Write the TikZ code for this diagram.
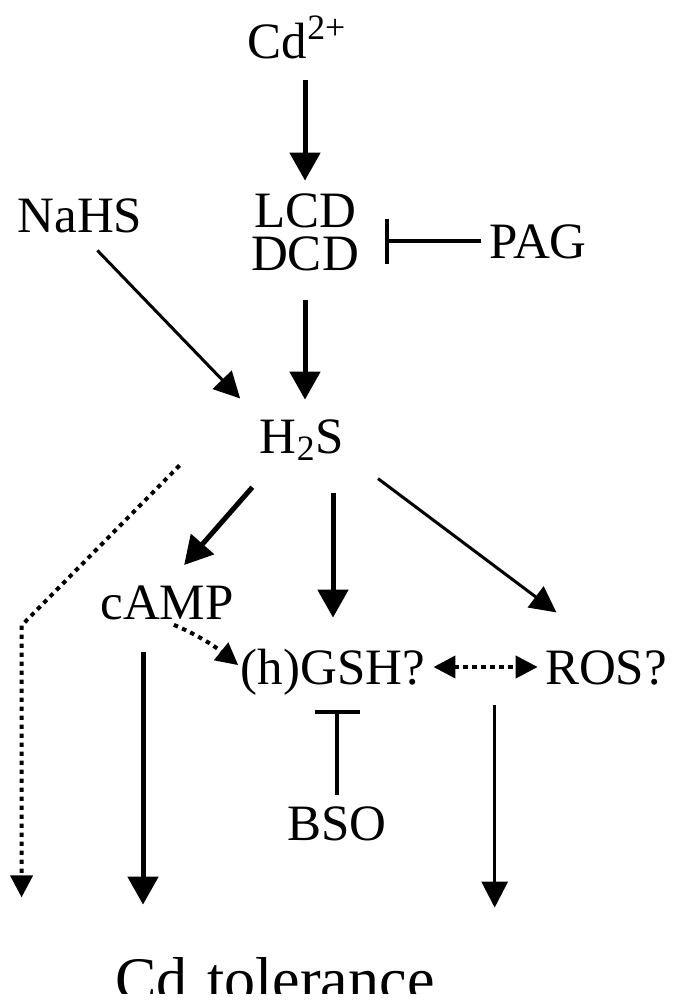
\documentclass[tikz,border=0pt]{standalone}
\usepackage{fontspec}
\setmainfont{Liberation Serif}
\usetikzlibrary{arrows.meta}

\begin{document}
\begin{tikzpicture}[
        x=0.5pt, y=-0.5pt,
        lbl/.style={inner sep=0pt, anchor=base, text height=17pt, text depth=0pt, font=\fontsize{25.5}{20}\selectfont},
        thk/.style={line width=2.5pt, -{Triangle[length=14pt,width=15pt]}},
        thn/.style={line width=1.5pt, -{Triangle[length=13pt,width=13pt]}},
        dotarr/.style={line width=2pt, dash pattern=on 2.2pt off 2.3pt, -{Triangle[length=11pt,width=11pt]}},
        blk/.style={line width=2pt, -{Bar[width=22.5pt]}}
    ]
        \useasboundingbox (0,0) rectangle (686,1002);
        \node[lbl] (cd) at (297,58) {Cd\textsuperscript{2+}};
        % two lines: base is the lower line
        \node[lbl, align=center, text height=38.5pt, font=\fontsize{25.5}{21.5}\selectfont] (lcd) at (305,270) {LCD\\DCD};
        \node[lbl] (pag) at (538,258) {PAG};
        \node[lbl] (nahs) at (80,232) {NaHS};
        \node[lbl] (h2s) at (302,453) {H\textsubscript{2}S};
        \node[lbl] (camp) at (167,619) {cAMP};
        \node[lbl] (gsh) at (333,684) {(h)GSH?};
        \node[lbl] (ros) at (606,684) {ROS?};
        \node[lbl] (bso) at (337,840) {BSO};
        % bottom line is cut off in the original
        \begin{scope}
            \clip (0,0) rectangle (686,993);
            \node[lbl, text height=20.5pt, font=\fontsize{31}{37}\selectfont] (tol) at (275,1000) {Cd\hspace{2pt} tolerance};
        \end{scope}
        \draw[thk, shorten <=11pt, shorten >=6pt] (cd.south -| lcd.north) -- (lcd.north);
        \draw[thk, shorten <=15pt, shorten >=9.5pt] (lcd.south) -- (lcd.south |- h2s.north);
        \draw[blk, shorten <=4pt, shorten >=13pt] (pag.west) -- (pag.west -| lcd.east);
        \draw[thn, shorten <=12.5pt, shorten >=14pt] (nahs.south) -- (h2s.north west);
        \draw[thk, shorten <=22.5pt, shorten >=13pt] ([xshift=-10pt]h2s.south) -- (camp.north);
        \draw[thk, shorten <=20pt, shorten >=16pt] (h2s.south -| gsh.north) -- (gsh.north);
        \draw[thn, shorten <=21pt, shorten >=31pt] (h2s.south east) -- (ros.north);
        \draw[dotarr] ([shift={(-40pt,-6pt)}]h2s.south west) -- ++(-79pt,-80pt) -- ++(0pt,-136pt);
        \draw[dotarr, shorten <=7pt, shorten >=1.5pt] ([xshift=-3pt]camp.south) to[bend left=8] (gsh.west);
        \draw[dotarr, {Triangle[length=11pt,width=11pt]}-{Triangle[length=11pt,width=11pt]}, shorten <=4pt, shorten >=3.5pt] (gsh.east) -- (gsh.east -| ros.west);
        \draw[blk, shorten <=5.5pt, shorten >=13pt] (bso.north) -- (bso.north |- gsh.south);
        \draw[thk, shorten <=16.5pt, shorten >=27pt] ([xshift=-12pt]camp.south) -- ([xshift=-12pt]camp.south |- tol.north);
        \draw[thn, shorten <=10.5pt, shorten >=25.5pt] ([xshift=-25pt]ros.south west) -- ([xshift=-25pt]ros.south west |- tol.north);
    \end{tikzpicture}
\end{document}
